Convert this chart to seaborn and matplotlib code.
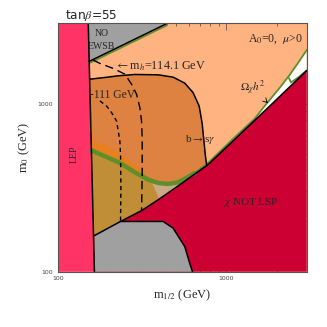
import numpy as np
import pandas as pd
import matplotlib
matplotlib.use("Agg")
import matplotlib.pyplot as plt
import seaborn as sns

sns.set_style("ticks")
plt.rcParams["font.family"] = ["Liberation Serif", "DejaVu Serif"]
plt.rcParams["mathtext.fontset"] = "stix"

# boundaries in the (m_1/2, m_0) plane, GeV
lep_m12 = [150.7, 164]
lep_m0 = [3000, 100]

ewsb_m12 = [152.8, 445]
ewsb_m0 = [1781, 3000]

stau_m12 = [164, 234.5, 313, 393, 528, 778, 1726, 3000]
stau_m0 = [164, 199, 231, 268, 329, 434, 924, 1570]

lowgray_m12 = [164, 164, 234.5, 420, 482, 565, 605, 628]
lowgray_m0 = [100, 164, 199, 199, 181.5, 141, 112, 100]

bsg_m12 = [154.2, 189.3, 227.2, 285.2, 392.6, 482, 565, 633, 688, 716, 733, 750, 763]
bsg_m0 = [1396, 1429, 1462, 1489, 1482, 1435, 1322, 1162, 967, 769, 612, 486, 430]

# relic density strip (thick part) and its continuation along the stau line
strip_m12 = [157.5, 189.3, 232.3, 285.2, 342.2, 392.6, 450, 516, 591.6, 648]
strip_m0 = [526, 486, 444, 390, 353, 337, 332.5, 340, 366, 387]
omega_m12 = [648, 778, 1094, 1472, 1649, 2072, 2376, 2662, 3000]
omega_m0 = [387, 444, 617, 813, 940, 1240, 1480, 1740, 2080]
hook_m12 = [2353, 2418, 2700, 3000]
hook_m0 = [1420, 1335, 1440, 1575]

band_m12 = [157.7, 189.3, 227.2, 260.4, 298.7, 334.5, 342.2]
band_m0 = [598, 571, 509, 465, 414, 369.5, 353]

mh114_m12 = [161.4, 176.8, 212.2, 248.9, 272.7, 291.9, 305.5, 312.6, 315.4, 315.4, 312.6]
mh114_m0 = [1813, 1732, 1617, 1495, 1303, 1136, 945.6, 787, 626, 378, 231]
mh111_m12 = [176.8, 193.6, 207.4, 222.1, 227.2, 232.3, 234.5, 235.6, 234.5]
mh111_m0 = [1036, 967, 883, 787, 686, 598, 498, 322, 199]

peach = "#FFB381"
red = "#CC0033"
pink = "#FF3366"
gray = "#A0A0A0"
dark_orange = "#DD8240"
olive = "#C08E36"
bright_orange = "#E9801F"
green = "#5E8F2A"
tan = "#CDA884"

fig = plt.figure(figsize=(3.27, 3.27), dpi=100)
ax = fig.add_axes([0.1783, 0.1691, 0.7596, 0.7596])
ax.set_xscale("log")
ax.set_yscale("log")
ax.set_xlim(100, 3000)
ax.set_ylim(100, 3000)
ax.set_facecolor(peach)

# chi not LSP
ax.fill(stau_m12 + [3000, 164], stau_m0 + [100, 100], color=red, lw=0)
# funnel
ax.fill(omega_m12[1:] + stau_m12[::-1][:3], omega_m0[1:] + stau_m0[::-1][:3], color="white", lw=0)
# b -> s gamma excluded
ax.fill(bsg_m12 + stau_m12[:5][::-1], bsg_m0 + stau_m0[:5][::-1], color=dark_orange, lw=0)
# orange band above the strip
ax.fill(band_m12 + strip_m12[:5][::-1], band_m0 + strip_m0[:5][::-1], color=bright_orange, lw=0)
# olive below the strip
ax.fill(strip_m12[:5] + [358, 398, 313, 234.5, 164],
        strip_m0[:5] + [345, 270, 231, 199, 164], color=olive, lw=0)
ax.fill([358, 398, 528, 591.6, 516, 450, 392.6],
        [345, 270, 329, 357, 340, 332.5, 337], color=tan, lw=0)

sns.lineplot(x=strip_m12, y=strip_m0, sort=False, estimator=None, color=green, lw=3.2, ax=ax)
sns.lineplot(x=omega_m12, y=omega_m0, sort=False, estimator=None, color=green, lw=1.3, ax=ax)
sns.lineplot(x=hook_m12, y=hook_m0, sort=False, estimator=None, color=green, lw=1.3, ax=ax)
sns.lineplot(x=ewsb_m12, y=[v * 0.975 for v in ewsb_m0], sort=False, estimator=None, color=green, lw=1.2, ax=ax)

# excluded grey regions and LEP
ax.fill(lowgray_m12, lowgray_m0, color=gray, lw=0)
ax.fill([lep_m12[0], ewsb_m12[0], ewsb_m12[1]], [3000, ewsb_m0[0], 3000], color=gray, lw=0)
ax.fill([100, 100] + lep_m12, [100, 3000] + lep_m0, color=pink, lw=0)

# boundaries
for xs, ys in [(lep_m12, lep_m0), (ewsb_m12, ewsb_m0), (stau_m12, stau_m0),
               (lowgray_m12[2:], lowgray_m0[2:]), (bsg_m12, bsg_m0)]:
    sns.lineplot(x=xs, y=ys, sort=False, estimator=None, color="black", lw=1.1, ax=ax)
sns.lineplot(x=mh114_m12, y=mh114_m0, sort=False, estimator=None, color="black",
             lw=1.0, linestyle=(0, (6, 3.5)), ax=ax)
sns.lineplot(x=mh111_m12, y=mh111_m0, sort=False, estimator=None, color="black",
             lw=1.0, linestyle=(0, (3, 2.5)), ax=ax)

fs = 8
ax.text(181, 2380, "NO\nEWSB", fontsize=7, ha="center", va="center", linespacing=1.6)
ax.text(2860, 2421, "A$_0$=0,  $\\mu$>0", fontsize=8.5, ha="right", va="center")
ax.text(217, 1677, "$\\leftarrow$m$_h$=114.1 GeV", fontsize=8.7, ha="left", va="center")
ax.text(154.3, 1126, "-111 GeV", fontsize=8.3, ha="left", va="center")
ax.text(693, 612, "b$\\rightarrow$s$\\gamma$", fontsize=fs, ha="center", va="center")
ax.text(123.9, 498, "LEP", fontsize=7, ha="center", va="center", rotation=90)
ax.text(1387, 258, "$\\chi$ NOT LSP", fontsize=fs, ha="center", va="center")
ax.annotate("$\\Omega_\\chi h^2$", xy=(1766, 1004), xytext=(1439, 1227), fontsize=fs,
            ha="center", va="center",
            arrowprops=dict(arrowstyle="->", lw=0.6, color="black", shrinkA=6, shrinkB=0))

ax.text(0.027, 1.017, "tan$\\beta$=55", transform=ax.transAxes, fontsize=8.7,
        family="DejaVu Sans", ha="left", va="baseline")

ax.set_xticks([100, 1000])
ax.set_yticks([100, 1000])
ax.set_xticklabels(["100", "1000"], family="DejaVu Sans", fontsize=4.5)
ax.set_yticklabels(["100", "1000"], family="DejaVu Sans", fontsize=4.5)
ax.xaxis.set_minor_formatter(matplotlib.ticker.NullFormatter())
ax.yaxis.set_minor_formatter(matplotlib.ticker.NullFormatter())
ax.tick_params(which="both", direction="in", top=True, right=True, width=0.5, colors="#444444")
ax.tick_params(which="major", length=5)
ax.tick_params(which="minor", length=2.5)
ax.tick_params(axis="x", pad=3)
ax.tick_params(axis="y", pad=4)
for s in ax.spines.values():
    s.set_color("#555555")
    s.set_linewidth(0.8)

ax.set_xlabel("m$_{1/2}$ (GeV)", fontsize=9, va="center")
ax.set_ylabel("m$_0$ (GeV)", fontsize=9, va="center")
ax.xaxis.set_label_coords(0.5, -0.094)
ax.yaxis.set_label_coords(-0.135, 0.5)

fig.savefig("out.png", dpi=100)
